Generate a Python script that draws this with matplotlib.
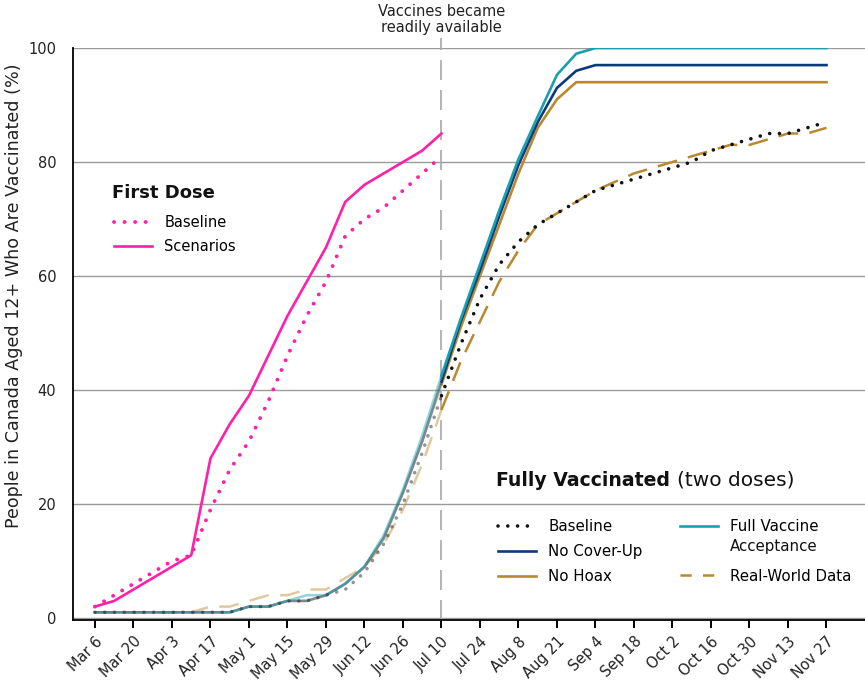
import matplotlib
matplotlib.use('Agg')
import matplotlib.pyplot as plt
from matplotlib.lines import Line2D

W, H = 865, 688

# ---------------- data ----------------
weeks = list(range(39))                 # weekly points starting Mar 6
first_weeks = list(range(19))           # first-dose series end at Jul 10
tick_labels = ['Mar 6', 'Mar 20', 'Apr 3', 'Apr 17', 'May 1', 'May 15', 'May 29',
               'Jun 12', 'Jun 26', 'Jul 10', 'Jul 24', 'Aug 8', 'Aug 21', 'Sep 4',
               'Sep 18', 'Oct 2', 'Oct 16', 'Oct 30', 'Nov 13', 'Nov 27']
y_ticks = [0, 20, 40, 60, 80, 100]

first_baseline = [2, 4, 6, 8, 10, 11, 19, 26, 31, 38, 46, 53, 59, 67, 70, 72, 75, 78, 81]
first_scenarios = [2, 3, 5, 7, 9, 11, 28, 34, 39, 46, 53, 59, 65, 73, 76, 78, 80, 82, 85]

full_baseline = [1, 1, 1, 1, 1, 1, 1, 1, 2, 2, 3, 3, 4, 5, 8, 13, 20, 29, 39,
                 48, 56, 62, 66, 69, 71, 73, 75, 76, 77, 78, 79, 80, 82, 83, 84,
                 85, 85, 86, 87]
no_coverup = [1, 1, 1, 1, 1, 1, 1, 1, 2, 2, 3, 3, 4, 6, 9, 14, 22, 31, 41.5,
              52, 61, 70.5, 79.5, 87, 93, 96, 97, 97, 97, 97, 97, 97, 97, 97, 97,
              97, 97, 97, 97]
no_hoax = [1, 1, 1, 1, 1, 1, 1, 1, 2, 2, 3, 3, 4, 6, 9, 14, 22, 31, 41,
           51, 60, 69, 78, 86, 91, 94, 94, 94, 94, 94, 94, 94, 94, 94, 94,
           94, 94, 94, 94]
full_acceptance = [1, 1, 1, 1, 1, 1, 1, 1, 2, 2, 3, 4, 4, 6, 9, 14.5, 22.5, 32, 42.5,
                   52.5, 62, 71.5, 80.5, 88, 95.3, 99, 100, 100, 100, 100, 100, 100,
                   100, 100, 100, 100, 100, 100, 100]
real_world = [1, 1, 1, 1, 1, 1, 2, 2, 3, 4, 4, 5, 5, 7, 9, 13, 19, 27, 36.5,
              45, 52, 59, 64.5, 69, 71, 73, 75, 76.5, 78, 79, 80, 81, 82, 83, 83,
              84, 85, 85, 86]

# ---------------- style ----------------
PINK = '#ff1fa9'
TEAL = '#1a9fae'
NAVY = '#0c3a7a'
GOLD = '#b8892f'
BLACK = '#111111'
GRID = '#9a9a9a'
FONT = 'DejaVu Sans'
plt.rcParams['font.family'] = [FONT]

fig = plt.figure(figsize=(W / 100, H / 100), dpi=100)
ax = fig.add_axes([73 / W, 1 - 620 / H, (W - 73) / W, (620 - 48) / H])
ax.set_xlim(-1.14, 40)
ax.set_ylim(-0.35, 100)

vline_week = tick_labels.index('Jul 10') * 2
split = vline_week

DOT = (0, (0.01, 2.7))
DASH = (0, (8, 4.5))
FADE = 0.45


def two_part(y, **kw):
    ax.plot(weeks[:split + 1], y[:split + 1], alpha=FADE, **kw)
    ax.plot(weeks[split:], y[split:], **kw)


# fully vaccinated
two_part(real_world, color=GOLD, lw=1.8, linestyle=DASH, zorder=3)
two_part(no_hoax, color=GOLD, lw=1.9, zorder=4, solid_joinstyle='round')
two_part(no_coverup, color=NAVY, lw=1.9, zorder=5, solid_joinstyle='round')
two_part(full_acceptance, color=TEAL, lw=1.9, zorder=6, solid_joinstyle='round')
two_part(full_baseline, color=BLACK, lw=2.6, linestyle=DOT, dash_capstyle='round', zorder=7)

# first dose
ax.plot(first_weeks, first_baseline, color=PINK, lw=2.8, linestyle=DOT,
        dash_capstyle='round', zorder=8)
ax.plot(first_weeks, first_scenarios, color=PINK, lw=1.9, zorder=8,
        solid_joinstyle='round')

# vertical reference line
ax.axvline(vline_week, ymin=0, ymax=1.018, color='#a8a8a8', lw=1.2,
           linestyle=(0, (12, 6)), clip_on=False, zorder=2)
ax.annotate('Vaccines became\nreadily available', xy=(vline_week, 1),
            xycoords=('data', 'axes fraction'), xytext=(0, 20.5),
            textcoords='offset points', ha='center', va='center',
            fontsize=10.5, color='#222222', linespacing=1.1)

# axes styling
ax.set_xticks(weeks[::2])
ax.set_xticklabels(tick_labels, rotation=45, ha='right', rotation_mode='anchor',
                   fontsize=10.5, color='#222222')
ax.set_yticks(y_ticks)
ax.set_yticklabels([str(v) for v in y_ticks], fontsize=10.5, color='#222222')
ax.tick_params(axis='x', length=6, width=1.4, color='black', pad=4)
ax.tick_params(axis='y', length=0, pad=12)
ax.yaxis.grid(True, color=GRID, lw=1.0)
ax.set_axisbelow(True)
for s in ['top', 'right']:
    ax.spines[s].set_visible(False)
for s in ['left', 'bottom']:
    ax.spines[s].set_linewidth(1.3)
    ax.spines[s].set_color('black')
ax.set_ylabel('People in Canada Aged 12+ Who Are Vaccinated (%)', fontsize=12.6,
              color='#222222')
ax.yaxis.set_label_coords((23 - 73) / (W - 73), (620 - 296) / (620 - 48))

# ---------------- legends ----------------
def fx(px):
    return px / W


def fy(py):
    return 1 - py / H


fig.text(fx(112), fy(193), 'First Dose', fontsize=13, fontweight='bold',
         ha='left', va='center', color='#111111')
h1 = [Line2D([], [], color=PINK, lw=2.8, linestyle=DOT, dash_capstyle='round'),
      Line2D([], [], color=PINK, lw=1.9)]
leg1 = fig.legend(h1, ['Baseline', 'Scenarios'], loc='upper left',
                  bbox_to_anchor=(fx(114), fy(215)), frameon=False, fontsize=10.5,
                  borderpad=0, handlelength=2.6, handletextpad=0.85,
                  labelspacing=0.62, borderaxespad=0)

t_bold = fig.text(fx(496), fy(480), 'Fully Vaccinated', fontsize=13.6,
                  fontweight='bold', ha='left', va='center', color='#111111')
fig.canvas.draw()
bb = t_bold.get_window_extent()
fig.text((bb.x1 + 7) / W, fy(480), '(two doses)', fontsize=14.5, ha='left',
         va='center', color='#111111')

common = dict(loc='upper left', frameon=False, fontsize=10.8, borderpad=0,
              handlelength=2.5, handletextpad=0.85, borderaxespad=0)
h2a = [Line2D([], [], color=BLACK, lw=2.6, linestyle=DOT, dash_capstyle='round'),
       Line2D([], [], color=NAVY, lw=1.9),
       Line2D([], [], color=GOLD, lw=1.9)]
leg2a = fig.legend(h2a, ['Baseline', 'No Cover-Up', 'No Hoax'],
                   bbox_to_anchor=(fx(498), fy(519)), labelspacing=0.66, **common)
h2b = [Line2D([], [], color=TEAL, lw=1.9),
       Line2D([], [], color=GOLD, lw=1.8, linestyle=(0, (4.5, 4.5)))]
leg2b = fig.legend(h2b, ['Full Vaccine', 'Real-World Data'],
                   bbox_to_anchor=(fx(680), fy(519)), labelspacing=2.31, **common)
fig.canvas.draw()
tb = leg2b.get_texts()[0].get_window_extent()
fig.text(tb.x0 / W, fy(547), 'Acceptance', fontsize=10.8, ha='left',
         va='center', color='#111111')

fig.savefig('out.png', dpi=100)
